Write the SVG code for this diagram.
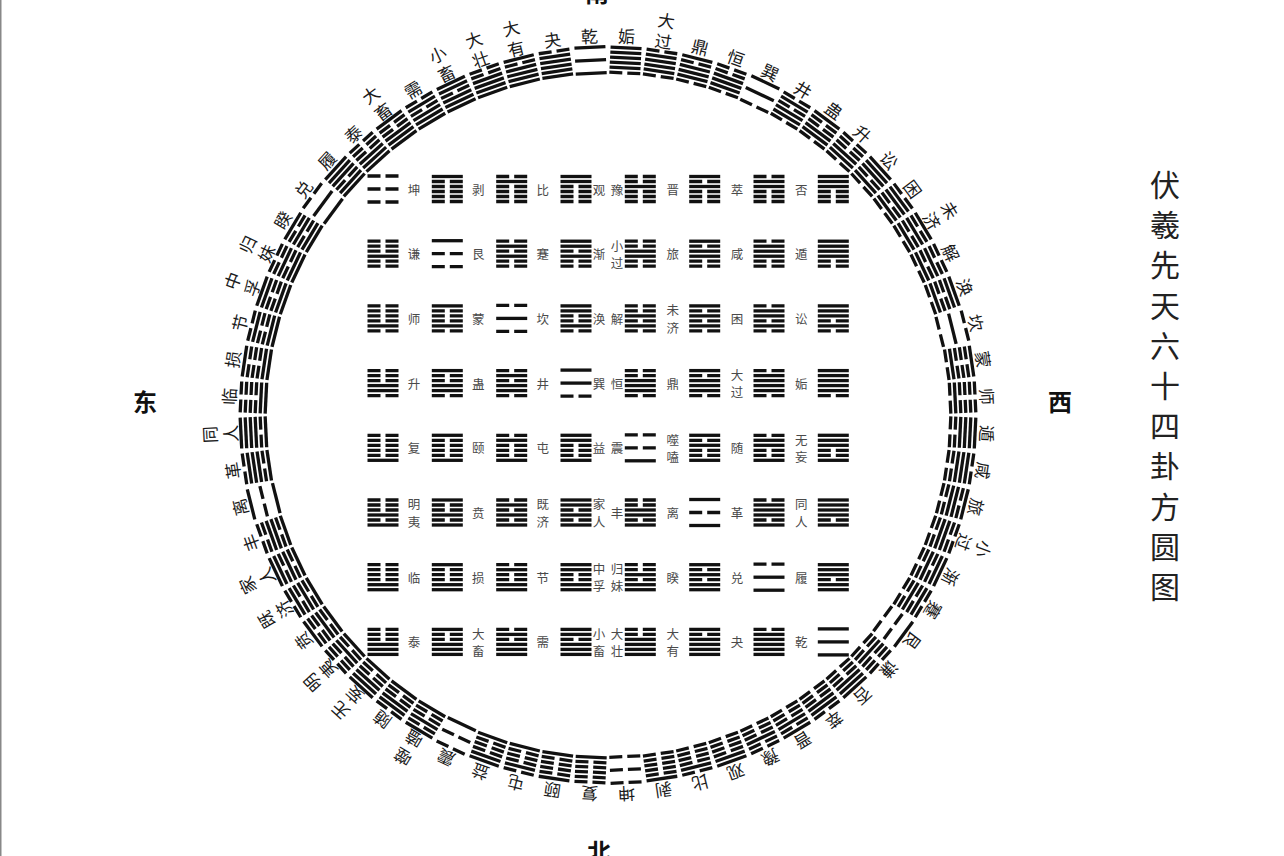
<svg xmlns="http://www.w3.org/2000/svg" width="1284" height="856" viewBox="0 0 1284 856">
<style>
text{font-family:"Noto Sans CJK SC","Noto Sans CJK TC",sans-serif;text-anchor:middle;dominant-baseline:central}
.ring text{font-size:17px;fill:#1a1a1a}
.sq text{font-size:12.5px;fill:#4a4a4a}
.dir{font-size:24px;font-weight:bold;fill:#111}
.title{font-size:30px;font-weight:400;fill:#222}
.hx{fill:#111}
</style>
<defs>
<rect id="Y" x="-15.5" y="-1.65" width="31" height="3.3"/>
<path id="N" d="M-15.5-1.65h13v3.3h-13zM2.5-1.65h13v3.3h-13z"/>
<g id="t0"><use href="#Y" y="-5"/><use href="#Y"/><use href="#Y" y="5"/></g>
<g id="t1"><use href="#N" y="-5"/><use href="#Y"/><use href="#Y" y="5"/></g>
<g id="t2"><use href="#Y" y="-5"/><use href="#N"/><use href="#Y" y="5"/></g>
<g id="t3"><use href="#N" y="-5"/><use href="#N"/><use href="#Y" y="5"/></g>
<g id="t4"><use href="#Y" y="-5"/><use href="#Y"/><use href="#N" y="5"/></g>
<g id="t5"><use href="#N" y="-5"/><use href="#Y"/><use href="#N" y="5"/></g>
<g id="t6"><use href="#Y" y="-5"/><use href="#N"/><use href="#N" y="5"/></g>
<g id="t7"><use href="#N" y="-5"/><use href="#N"/><use href="#N" y="5"/></g>
<g id="h0"><use href="#Y" y="-13"/><use href="#Y"/><use href="#Y" y="13"/></g>
<g id="h9"><use href="#N" y="-13"/><use href="#Y"/><use href="#Y" y="13"/></g>
<g id="h18"><use href="#Y" y="-13"/><use href="#N"/><use href="#Y" y="13"/></g>
<g id="h27"><use href="#N" y="-13"/><use href="#N"/><use href="#Y" y="13"/></g>
<g id="h36"><use href="#Y" y="-13"/><use href="#Y"/><use href="#N" y="13"/></g>
<g id="h45"><use href="#N" y="-13"/><use href="#Y"/><use href="#N" y="13"/></g>
<g id="h54"><use href="#Y" y="-13"/><use href="#N"/><use href="#N" y="13"/></g>
<g id="h63"><use href="#N" y="-13"/><use href="#N"/><use href="#N" y="13"/></g>
<g id="h1"><use href="#t1" y="-7.5"/><use href="#t0" y="7.5"/></g>
<g id="h2"><use href="#t2" y="-7.5"/><use href="#t0" y="7.5"/></g>
<g id="h3"><use href="#t3" y="-7.5"/><use href="#t0" y="7.5"/></g>
<g id="h4"><use href="#t4" y="-7.5"/><use href="#t0" y="7.5"/></g>
<g id="h5"><use href="#t5" y="-7.5"/><use href="#t0" y="7.5"/></g>
<g id="h6"><use href="#t6" y="-7.5"/><use href="#t0" y="7.5"/></g>
<g id="h7"><use href="#t7" y="-7.5"/><use href="#t0" y="7.5"/></g>
<g id="h8"><use href="#t0" y="-7.5"/><use href="#t1" y="7.5"/></g>
<g id="h10"><use href="#t2" y="-7.5"/><use href="#t1" y="7.5"/></g>
<g id="h11"><use href="#t3" y="-7.5"/><use href="#t1" y="7.5"/></g>
<g id="h12"><use href="#t4" y="-7.5"/><use href="#t1" y="7.5"/></g>
<g id="h13"><use href="#t5" y="-7.5"/><use href="#t1" y="7.5"/></g>
<g id="h14"><use href="#t6" y="-7.5"/><use href="#t1" y="7.5"/></g>
<g id="h15"><use href="#t7" y="-7.5"/><use href="#t1" y="7.5"/></g>
<g id="h16"><use href="#t0" y="-7.5"/><use href="#t2" y="7.5"/></g>
<g id="h17"><use href="#t1" y="-7.5"/><use href="#t2" y="7.5"/></g>
<g id="h19"><use href="#t3" y="-7.5"/><use href="#t2" y="7.5"/></g>
<g id="h20"><use href="#t4" y="-7.5"/><use href="#t2" y="7.5"/></g>
<g id="h21"><use href="#t5" y="-7.5"/><use href="#t2" y="7.5"/></g>
<g id="h22"><use href="#t6" y="-7.5"/><use href="#t2" y="7.5"/></g>
<g id="h23"><use href="#t7" y="-7.5"/><use href="#t2" y="7.5"/></g>
<g id="h24"><use href="#t0" y="-7.5"/><use href="#t3" y="7.5"/></g>
<g id="h25"><use href="#t1" y="-7.5"/><use href="#t3" y="7.5"/></g>
<g id="h26"><use href="#t2" y="-7.5"/><use href="#t3" y="7.5"/></g>
<g id="h28"><use href="#t4" y="-7.5"/><use href="#t3" y="7.5"/></g>
<g id="h29"><use href="#t5" y="-7.5"/><use href="#t3" y="7.5"/></g>
<g id="h30"><use href="#t6" y="-7.5"/><use href="#t3" y="7.5"/></g>
<g id="h31"><use href="#t7" y="-7.5"/><use href="#t3" y="7.5"/></g>
<g id="h32"><use href="#t0" y="-7.5"/><use href="#t4" y="7.5"/></g>
<g id="h33"><use href="#t1" y="-7.5"/><use href="#t4" y="7.5"/></g>
<g id="h34"><use href="#t2" y="-7.5"/><use href="#t4" y="7.5"/></g>
<g id="h35"><use href="#t3" y="-7.5"/><use href="#t4" y="7.5"/></g>
<g id="h37"><use href="#t5" y="-7.5"/><use href="#t4" y="7.5"/></g>
<g id="h38"><use href="#t6" y="-7.5"/><use href="#t4" y="7.5"/></g>
<g id="h39"><use href="#t7" y="-7.5"/><use href="#t4" y="7.5"/></g>
<g id="h40"><use href="#t0" y="-7.5"/><use href="#t5" y="7.5"/></g>
<g id="h41"><use href="#t1" y="-7.5"/><use href="#t5" y="7.5"/></g>
<g id="h42"><use href="#t2" y="-7.5"/><use href="#t5" y="7.5"/></g>
<g id="h43"><use href="#t3" y="-7.5"/><use href="#t5" y="7.5"/></g>
<g id="h44"><use href="#t4" y="-7.5"/><use href="#t5" y="7.5"/></g>
<g id="h46"><use href="#t6" y="-7.5"/><use href="#t5" y="7.5"/></g>
<g id="h47"><use href="#t7" y="-7.5"/><use href="#t5" y="7.5"/></g>
<g id="h48"><use href="#t0" y="-7.5"/><use href="#t6" y="7.5"/></g>
<g id="h49"><use href="#t1" y="-7.5"/><use href="#t6" y="7.5"/></g>
<g id="h50"><use href="#t2" y="-7.5"/><use href="#t6" y="7.5"/></g>
<g id="h51"><use href="#t3" y="-7.5"/><use href="#t6" y="7.5"/></g>
<g id="h52"><use href="#t4" y="-7.5"/><use href="#t6" y="7.5"/></g>
<g id="h53"><use href="#t5" y="-7.5"/><use href="#t6" y="7.5"/></g>
<g id="h55"><use href="#t7" y="-7.5"/><use href="#t6" y="7.5"/></g>
<g id="h56"><use href="#t0" y="-7.5"/><use href="#t7" y="7.5"/></g>
<g id="h57"><use href="#t1" y="-7.5"/><use href="#t7" y="7.5"/></g>
<g id="h58"><use href="#t2" y="-7.5"/><use href="#t7" y="7.5"/></g>
<g id="h59"><use href="#t3" y="-7.5"/><use href="#t7" y="7.5"/></g>
<g id="h60"><use href="#t4" y="-7.5"/><use href="#t7" y="7.5"/></g>
<g id="h61"><use href="#t5" y="-7.5"/><use href="#t7" y="7.5"/></g>
<g id="h62"><use href="#t6" y="-7.5"/><use href="#t7" y="7.5"/></g>
</defs>
<rect width="1284" height="856" fill="#fff"/>
<rect x="0" y="0" width="1.5" height="856" fill="#888"/>

<g id="ring" class="ring hx">
<g id="c0" transform="rotate(-2.8125 608 415)"><use href="#h0" x="608" y="60"/><text x="608" y="35">乾</text></g>
<g id="c1" transform="rotate(-8.4375 608 415)"><use href="#h1" x="608" y="60"/><text x="608" y="35">夬</text></g>
<g id="c2" transform="rotate(-14.0625 608 415)"><use href="#h2" x="608" y="60"/><text><tspan x="608" y="15">大</tspan><tspan x="608" y="36">有</tspan></text></g>
<g id="c3" transform="rotate(-19.6875 608 415)"><use href="#h3" x="608" y="60"/><text><tspan x="608" y="15">大</tspan><tspan x="608" y="36">壮</tspan></text></g>
<g id="c4" transform="rotate(-25.3125 608 415)"><use href="#h4" x="608" y="60"/><text><tspan x="608" y="15">小</tspan><tspan x="608" y="36">畜</tspan></text></g>
<g id="c5" transform="rotate(-30.9375 608 415)"><use href="#h5" x="608" y="60"/><text x="608" y="35">需</text></g>
<g id="c6" transform="rotate(-36.5625 608 415)"><use href="#h6" x="608" y="60"/><text><tspan x="608" y="15">大</tspan><tspan x="608" y="36">畜</tspan></text></g>
<g id="c7" transform="rotate(-42.1875 608 415)"><use href="#h7" x="608" y="60"/><text x="608" y="35">泰</text></g>
<g id="c8" transform="rotate(-47.8125 608 415)"><use href="#h8" x="608" y="60"/><text x="608" y="35">履</text></g>
<g id="c9" transform="rotate(-53.4375 608 415)"><use href="#h9" x="608" y="60"/><text x="608" y="35">兑</text></g>
<g id="c10" transform="rotate(-59.0625 608 415)"><use href="#h10" x="608" y="60"/><text x="608" y="35">睽</text></g>
<g id="c11" transform="rotate(-64.6875 608 415)"><use href="#h11" x="608" y="60"/><text><tspan x="608" y="15">归</tspan><tspan x="608" y="36">妹</tspan></text></g>
<g id="c12" transform="rotate(-70.3125 608 415)"><use href="#h12" x="608" y="60"/><text><tspan x="608" y="15">中</tspan><tspan x="608" y="36">孚</tspan></text></g>
<g id="c13" transform="rotate(-75.9375 608 415)"><use href="#h13" x="608" y="60"/><text x="608" y="35">节</text></g>
<g id="c14" transform="rotate(-81.5625 608 415)"><use href="#h14" x="608" y="60"/><text x="608" y="35">损</text></g>
<g id="c15" transform="rotate(-87.1875 608 415)"><use href="#h15" x="608" y="60"/><text x="608" y="35">临</text></g>
<g id="c16" transform="rotate(-92.8125 608 415)"><use href="#h16" x="608" y="60"/><text><tspan x="608" y="15">同</tspan><tspan x="608" y="36">人</tspan></text></g>
<g id="c17" transform="rotate(-98.4375 608 415)"><use href="#h17" x="608" y="60"/><text x="608" y="35">革</text></g>
<g id="c18" transform="rotate(-104.0625 608 415)"><use href="#h18" x="608" y="60"/><text x="608" y="35">离</text></g>
<g id="c19" transform="rotate(-109.6875 608 415)"><use href="#h19" x="608" y="60"/><text x="608" y="35">丰</text></g>
<g id="c20" transform="rotate(-115.3125 608 415)"><use href="#h20" x="608" y="60"/><text><tspan x="608" y="15">家</tspan><tspan x="608" y="36">人</tspan></text></g>
<g id="c21" transform="rotate(-120.9375 608 415)"><use href="#h21" x="608" y="60"/><text><tspan x="608" y="15">既</tspan><tspan x="608" y="36">济</tspan></text></g>
<g id="c22" transform="rotate(-126.5625 608 415)"><use href="#h22" x="608" y="60"/><text x="608" y="35">贲</text></g>
<g id="c23" transform="rotate(-132.1875 608 415)"><use href="#h23" x="608" y="60"/><text><tspan x="608" y="15">明</tspan><tspan x="608" y="36">夷</tspan></text></g>
<g id="c24" transform="rotate(-137.8125 608 415)"><use href="#h24" x="608" y="60"/><text><tspan x="608" y="15">无</tspan><tspan x="608" y="36">妄</tspan></text></g>
<g id="c25" transform="rotate(-143.4375 608 415)"><use href="#h25" x="608" y="60"/><text x="608" y="35">随</text></g>
<g id="c26" transform="rotate(-149.0625 608 415)"><use href="#h26" x="608" y="60"/><text><tspan x="608" y="15">噬</tspan><tspan x="608" y="36">嗑</tspan></text></g>
<g id="c27" transform="rotate(-154.6875 608 415)"><use href="#h27" x="608" y="60"/><text x="608" y="35">震</text></g>
<g id="c28" transform="rotate(-160.3125 608 415)"><use href="#h28" x="608" y="60"/><text x="608" y="35">益</text></g>
<g id="c29" transform="rotate(-165.9375 608 415)"><use href="#h29" x="608" y="60"/><text x="608" y="35">屯</text></g>
<g id="c30" transform="rotate(-171.5625 608 415)"><use href="#h30" x="608" y="60"/><text x="608" y="35">颐</text></g>
<g id="c31" transform="rotate(-177.1875 608 415)"><use href="#h31" x="608" y="60"/><text x="608" y="35">复</text></g>
<g id="c32" transform="rotate(2.8125 608 415)"><use href="#h32" x="608" y="60"/><text x="608" y="35">姤</text></g>
<g id="c33" transform="rotate(8.4375 608 415)"><use href="#h33" x="608" y="60"/><text><tspan x="608" y="15">大</tspan><tspan x="608" y="36">过</tspan></text></g>
<g id="c34" transform="rotate(14.0625 608 415)"><use href="#h34" x="608" y="60"/><text x="608" y="35">鼎</text></g>
<g id="c35" transform="rotate(19.6875 608 415)"><use href="#h35" x="608" y="60"/><text x="608" y="35">恒</text></g>
<g id="c36" transform="rotate(25.3125 608 415)"><use href="#h36" x="608" y="60"/><text x="608" y="35">巽</text></g>
<g id="c37" transform="rotate(30.9375 608 415)"><use href="#h37" x="608" y="60"/><text x="608" y="35">井</text></g>
<g id="c38" transform="rotate(36.5625 608 415)"><use href="#h38" x="608" y="60"/><text x="608" y="35">蛊</text></g>
<g id="c39" transform="rotate(42.1875 608 415)"><use href="#h39" x="608" y="60"/><text x="608" y="35">升</text></g>
<g id="c40" transform="rotate(47.8125 608 415)"><use href="#h40" x="608" y="60"/><text x="608" y="35">讼</text></g>
<g id="c41" transform="rotate(53.4375 608 415)"><use href="#h41" x="608" y="60"/><text x="608" y="35">困</text></g>
<g id="c42" transform="rotate(59.0625 608 415)"><use href="#h42" x="608" y="60"/><text><tspan x="608" y="15">未</tspan><tspan x="608" y="36">济</tspan></text></g>
<g id="c43" transform="rotate(64.6875 608 415)"><use href="#h43" x="608" y="60"/><text x="608" y="35">解</text></g>
<g id="c44" transform="rotate(70.3125 608 415)"><use href="#h44" x="608" y="60"/><text x="608" y="35">涣</text></g>
<g id="c45" transform="rotate(75.9375 608 415)"><use href="#h45" x="608" y="60"/><text x="608" y="35">坎</text></g>
<g id="c46" transform="rotate(81.5625 608 415)"><use href="#h46" x="608" y="60"/><text x="608" y="35">蒙</text></g>
<g id="c47" transform="rotate(87.1875 608 415)"><use href="#h47" x="608" y="60"/><text x="608" y="35">师</text></g>
<g id="c48" transform="rotate(92.8125 608 415)"><use href="#h48" x="608" y="60"/><text x="608" y="35">遁</text></g>
<g id="c49" transform="rotate(98.4375 608 415)"><use href="#h49" x="608" y="60"/><text x="608" y="35">咸</text></g>
<g id="c50" transform="rotate(104.0625 608 415)"><use href="#h50" x="608" y="60"/><text x="608" y="35">旅</text></g>
<g id="c51" transform="rotate(109.6875 608 415)"><use href="#h51" x="608" y="60"/><text><tspan x="608" y="15">小</tspan><tspan x="608" y="36">过</tspan></text></g>
<g id="c52" transform="rotate(115.3125 608 415)"><use href="#h52" x="608" y="60"/><text x="608" y="35">渐</text></g>
<g id="c53" transform="rotate(120.9375 608 415)"><use href="#h53" x="608" y="60"/><text x="608" y="35">蹇</text></g>
<g id="c54" transform="rotate(126.5625 608 415)"><use href="#h54" x="608" y="60"/><text x="608" y="35">艮</text></g>
<g id="c55" transform="rotate(132.1875 608 415)"><use href="#h55" x="608" y="60"/><text x="608" y="35">谦</text></g>
<g id="c56" transform="rotate(137.8125 608 415)"><use href="#h56" x="608" y="60"/><text x="608" y="35">否</text></g>
<g id="c57" transform="rotate(143.4375 608 415)"><use href="#h57" x="608" y="60"/><text x="608" y="35">萃</text></g>
<g id="c58" transform="rotate(149.0625 608 415)"><use href="#h58" x="608" y="60"/><text x="608" y="35">晋</text></g>
<g id="c59" transform="rotate(154.6875 608 415)"><use href="#h59" x="608" y="60"/><text x="608" y="35">豫</text></g>
<g id="c60" transform="rotate(160.3125 608 415)"><use href="#h60" x="608" y="60"/><text x="608" y="35">观</text></g>
<g id="c61" transform="rotate(165.9375 608 415)"><use href="#h61" x="608" y="60"/><text x="608" y="35">比</text></g>
<g id="c62" transform="rotate(171.5625 608 415)"><use href="#h62" x="608" y="60"/><text x="608" y="35">剥</text></g>
<g id="c63" transform="rotate(177.1875 608 415)"><use href="#h63" x="608" y="60"/><text x="608" y="35">坤</text></g>
</g>

<g id="square" class="sq hx">
<g id="s0-0"><use href="#h63" x="383" y="189"/><text x="414" y="189">坤</text></g>
<g id="s0-1"><use href="#h62" x="447.3" y="189"/><text x="478.3" y="189">剥</text></g>
<g id="s0-2"><use href="#h61" x="511.7" y="189"/><text x="542.7" y="189">比</text></g>
<g id="s0-3"><use href="#h60" x="576" y="189"/><text x="599" y="189">观</text></g>
<g id="s0-4"><use href="#h59" x="640.3" y="189"/><text x="617" y="189">豫</text></g>
<g id="s0-5"><use href="#h58" x="704.7" y="189"/><text x="672.7" y="189">晋</text></g>
<g id="s0-6"><use href="#h57" x="769" y="189"/><text x="737" y="189">萃</text></g>
<g id="s0-7"><use href="#h56" x="833.3" y="189"/><text x="801.3" y="189">否</text></g>

<g id="s1-0"><use href="#h55" x="383" y="253.7"/><text x="414" y="253.7">谦</text></g>
<g id="s1-1"><use href="#h54" x="447.3" y="253.7"/><text x="478.3" y="253.7">艮</text></g>
<g id="s1-2"><use href="#h53" x="511.7" y="253.7"/><text x="542.7" y="253.7">蹇</text></g>
<g id="s1-3"><use href="#h52" x="576" y="253.7"/><text x="599" y="253.7">渐</text></g>
<g id="s1-4"><use href="#h51" x="640.3" y="253.7"/><text x="617" y="245">小</text><text x="617" y="262.4">过</text></g>
<g id="s1-5"><use href="#h50" x="704.7" y="253.7"/><text x="672.7" y="253.7">旅</text></g>
<g id="s1-6"><use href="#h49" x="769" y="253.7"/><text x="737" y="253.7">咸</text></g>
<g id="s1-7"><use href="#h48" x="833.3" y="253.7"/><text x="801.3" y="253.7">遁</text></g>

<g id="s2-0"><use href="#h47" x="383" y="318.4"/><text x="414" y="318.4">师</text></g>
<g id="s2-1"><use href="#h46" x="447.3" y="318.4"/><text x="478.3" y="318.4">蒙</text></g>
<g id="s2-2"><use href="#h45" x="511.7" y="318.4"/><text x="542.7" y="318.4">坎</text></g>
<g id="s2-3"><use href="#h44" x="576" y="318.4"/><text x="599" y="318.4">涣</text></g>
<g id="s2-4"><use href="#h43" x="640.3" y="318.4"/><text x="617" y="318.4">解</text></g>
<g id="s2-5"><use href="#h42" x="704.7" y="318.4"/><text x="672.7" y="309.7">未</text><text x="672.7" y="327.1">济</text></g>
<g id="s2-6"><use href="#h41" x="769" y="318.4"/><text x="737" y="318.4">困</text></g>
<g id="s2-7"><use href="#h40" x="833.3" y="318.4"/><text x="801.3" y="318.4">讼</text></g>

<g id="s3-0"><use href="#h39" x="383" y="383.1"/><text x="414" y="383.1">升</text></g>
<g id="s3-1"><use href="#h38" x="447.3" y="383.1"/><text x="478.3" y="383.1">蛊</text></g>
<g id="s3-2"><use href="#h37" x="511.7" y="383.1"/><text x="542.7" y="383.1">井</text></g>
<g id="s3-3"><use href="#h36" x="576" y="383.1"/><text x="599" y="383.1">巽</text></g>
<g id="s3-4"><use href="#h35" x="640.3" y="383.1"/><text x="617" y="383.1">恒</text></g>
<g id="s3-5"><use href="#h34" x="704.7" y="383.1"/><text x="672.7" y="383.1">鼎</text></g>
<g id="s3-6"><use href="#h33" x="769" y="383.1"/><text x="737" y="374.4">大</text><text x="737" y="391.8">过</text></g>
<g id="s3-7"><use href="#h32" x="833.3" y="383.1"/><text x="801.3" y="383.1">姤</text></g>

<g id="s4-0"><use href="#h31" x="383" y="447.8"/><text x="414" y="447.8">复</text></g>
<g id="s4-1"><use href="#h30" x="447.3" y="447.8"/><text x="478.3" y="447.8">颐</text></g>
<g id="s4-2"><use href="#h29" x="511.7" y="447.8"/><text x="542.7" y="447.8">屯</text></g>
<g id="s4-3"><use href="#h28" x="576" y="447.8"/><text x="599" y="447.8">益</text></g>
<g id="s4-4"><use href="#h27" x="640.3" y="447.8"/><text x="617" y="447.8">震</text></g>
<g id="s4-5"><use href="#h26" x="704.7" y="447.8"/><text x="672.7" y="439.1">噬</text><text x="672.7" y="456.5">嗑</text></g>
<g id="s4-6"><use href="#h25" x="769" y="447.8"/><text x="737" y="447.8">随</text></g>
<g id="s4-7"><use href="#h24" x="833.3" y="447.8"/><text x="801.3" y="439.1">无</text><text x="801.3" y="456.5">妄</text></g>

<g id="s5-0"><use href="#h23" x="383" y="512.5"/><text x="414" y="503.8">明</text><text x="414" y="521.2">夷</text></g>
<g id="s5-1"><use href="#h22" x="447.3" y="512.5"/><text x="478.3" y="512.5">贲</text></g>
<g id="s5-2"><use href="#h21" x="511.7" y="512.5"/><text x="542.7" y="503.8">既</text><text x="542.7" y="521.2">济</text></g>
<g id="s5-3"><use href="#h20" x="576" y="512.5"/><text x="599" y="503.8">家</text><text x="599" y="521.2">人</text></g>
<g id="s5-4"><use href="#h19" x="640.3" y="512.5"/><text x="617" y="512.5">丰</text></g>
<g id="s5-5"><use href="#h18" x="704.7" y="512.5"/><text x="672.7" y="512.5">离</text></g>
<g id="s5-6"><use href="#h17" x="769" y="512.5"/><text x="737" y="512.5">革</text></g>
<g id="s5-7"><use href="#h16" x="833.3" y="512.5"/><text x="801.3" y="503.8">同</text><text x="801.3" y="521.2">人</text></g>

<g id="s6-0"><use href="#h15" x="383" y="577.2"/><text x="414" y="577.2">临</text></g>
<g id="s6-1"><use href="#h14" x="447.3" y="577.2"/><text x="478.3" y="577.2">损</text></g>
<g id="s6-2"><use href="#h13" x="511.7" y="577.2"/><text x="542.7" y="577.2">节</text></g>
<g id="s6-3"><use href="#h12" x="576" y="577.2"/><text x="599" y="568.5">中</text><text x="599" y="585.9">孚</text></g>
<g id="s6-4"><use href="#h11" x="640.3" y="577.2"/><text x="617" y="568.5">归</text><text x="617" y="585.9">妹</text></g>
<g id="s6-5"><use href="#h10" x="704.7" y="577.2"/><text x="672.7" y="577.2">睽</text></g>
<g id="s6-6"><use href="#h9" x="769" y="577.2"/><text x="737" y="577.2">兑</text></g>
<g id="s6-7"><use href="#h8" x="833.3" y="577.2"/><text x="801.3" y="577.2">履</text></g>

<g id="s7-0"><use href="#h7" x="383" y="641.9"/><text x="414" y="641.9">泰</text></g>
<g id="s7-1"><use href="#h6" x="447.3" y="641.9"/><text x="478.3" y="633.2">大</text><text x="478.3" y="650.6">畜</text></g>
<g id="s7-2"><use href="#h5" x="511.7" y="641.9"/><text x="542.7" y="641.9">需</text></g>
<g id="s7-3"><use href="#h4" x="576" y="641.9"/><text x="599" y="633.2">小</text><text x="599" y="650.6">畜</text></g>
<g id="s7-4"><use href="#h3" x="640.3" y="641.9"/><text x="617" y="633.2">大</text><text x="617" y="650.6">壮</text></g>
<g id="s7-5"><use href="#h2" x="704.7" y="641.9"/><text x="672.7" y="633.2">大</text><text x="672.7" y="650.6">有</text></g>
<g id="s7-6"><use href="#h1" x="769" y="641.9"/><text x="737" y="641.9">夬</text></g>
<g id="s7-7"><use href="#h0" x="833.3" y="641.9"/><text x="801.3" y="641.9">乾</text></g>
</g>

<g id="directions">
<text class="dir" x="597" y="-9">南</text>
<text class="dir" x="599" y="850">北</text>
<text class="dir" x="145" y="400">东</text>
<text class="dir" x="1060" y="400">西</text>
</g>

<g id="title" class="title">
<text x="1165" y="183">伏</text>
<text x="1165" y="223.2">羲</text>
<text x="1165" y="263.4">先</text>
<text x="1165" y="303.6">天</text>
<text x="1165" y="343.8">六</text>
<text x="1165" y="384">十</text>
<text x="1165" y="424.2">四</text>
<text x="1165" y="464.4">卦</text>
<text x="1165" y="504.6">方</text>
<text x="1165" y="544.8">圆</text>
<text x="1165" y="585">图</text>
</g>
</svg>
